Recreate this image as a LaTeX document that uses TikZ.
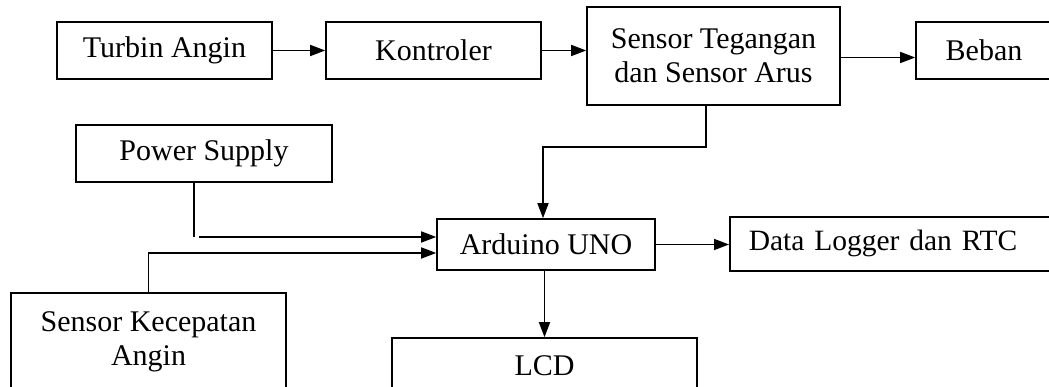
\documentclass[tikz,border=0pt]{standalone}
\usepackage{fontspec}
\setmainfont{Liberation Serif}
\usetikzlibrary{arrows.meta}
\begin{document}
\begin{tikzpicture}[x=1pt,y=-1pt,
  box/.style={draw, line width=1.6pt, inner sep=0pt, font=\fontsize{30pt}{34pt}\selectfont, align=center},
  arr/.style={line width=1.6pt, -{Triangle[length=15pt,width=11pt]}},
  ln/.style={line width=1.6pt}]
\useasboundingbox (0,0) rectangle (1049,387);
\clip (0,0) rectangle (1049,387);
\fill[white] (0,0) rectangle (1049,387);

\node[box, minimum width=215pt, minimum height=57pt] (turbin) at (164.5,50.5) {Turbin Angin};
\node[box, minimum width=215pt, minimum height=57pt] (kontroler) at (433.5,50.5) {Kontroler};
\node[box, minimum width=253pt, minimum height=98pt] (sensor) at (713.5,56) {Sensor Tegangan\\dan Sensor Arus};
\node[box, minimum width=136pt, minimum height=57pt] (beban) at (984,50.5) {Beban};
\node[box, minimum width=256pt, minimum height=57pt] (power) at (204,153.5) {Power Supply};
\node[box, minimum width=218pt, minimum height=51pt] (arduino) at (546,244.5) {Arduino UNO};
\node[box, anchor=north west, minimum height=54pt, text width=293pt, inner xsep=19pt, align=left, font=\fontsize{29.5pt}{34pt}\selectfont] (logger) at (729,216) {Data Logger dan RTC};
\node[box, minimum width=275pt, minimum height=98pt] (kecepatan) at (148.5,342) {Sensor Kecepatan\\Angin};
\node[box, minimum width=305pt, minimum height=56pt] (lcd) at (544.5,366) {LCD};

\coordinate (bend1) at (620,147);
\coordinate (pc) at (194,237);

\draw[arr] (turbin.east) -- (kontroler.west);
\draw[arr] (kontroler.east) -- (kontroler.east -| sensor.west);
\draw[arr] ([yshift=-1.5pt]sensor.east) -- ([yshift=-1.5pt]sensor.east -| beban.west);
\draw[arr] ([xshift=-7.5pt]sensor.south) |- (bend1) -| ([xshift=-3pt]arduino.north);
\draw[ln] ([xshift=-10pt]power.south) -- (pc);
\draw[arr] ([xshift=5pt]pc) -- ([yshift=7.5pt]arduino.west);
\draw[arr] (kecepatan.north) |- ([yshift=-8.5pt]arduino.west);
\draw[arr] (arduino.east) -- (arduino.east -| logger.west);
\draw[arr] (arduino.south -| lcd.north) -- (lcd.north);
\end{tikzpicture}
\end{document}
